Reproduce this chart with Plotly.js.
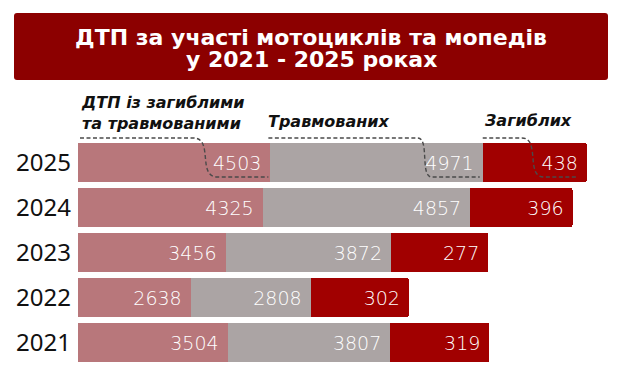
<!DOCTYPE html>
<html>
<head>
<meta charset="utf-8">
<script src="https://cdn.plot.ly/plotly-3.0.1.min.js"></script>
<style>html,body{margin:0;padding:0;background:#fff;}#chart{width:620px;height:375px;}</style>
</head>
<body>
<div id="chart"></div>
<script>
// ---- data ----
const years = ['2021', '2022', '2023', '2024', '2025'];
const crashes = [3504, 2638, 3456, 4325, 4503];   // ДТП із загиблими та травмованими
const injured = [3807, 2808, 3872, 4857, 4971];   // Травмованих
const killed  = [319, 302, 277, 396, 438];        // Загиблих
const seriesNames = ['ДТП із загиблими<br>та травмованими', 'Травмованих', 'Загиблих'];
const titleLine1 = 'ДТП за участі мотоциклів та мопедів';
const titleLine2 = 'у 2021 - 2025 роках';

// ---- style ----
const C_PINK = '#b8777b', C_GREY = '#aba4a4', C_RED = '#a10000', C_BOX = '#8c0000';
// the reference draws the "killed" segment with a visual padding (not to scale)
const KILLED_PAD = 2000;
const killedLen = killed.map(v => v + KILLED_PAD);

const W = 620, H = 375, M = {l: 78, r: 8, t: 140, b: 10};
const XMAX = 12500;
const plotW = W - M.l - M.r, plotH = H - M.t - M.b;
const k = XMAX / plotW;                    // data units per pixel
const px2paperX = px => (px - M.l) / plotW;
const px2paperY = py => (H - M.b - py) / plotH;

const valFont = {family: '"DejaVu Sans ExtraLight", "DejaVu Sans", sans-serif', size: 19, color: '#ffffff', weight: 200};
const common = {type: 'bar', orientation: 'h', y: years, textposition: 'inside',
  insidetextanchor: 'end', texttemplate: '%{text}\u00a0', hoverinfo: 'skip',
  insidetextfont: valFont, textfont: valFont, cliponaxis: false};

const traces = [
  Object.assign({}, common, {x: crashes, text: crashes, name: seriesNames[0], marker: {color: C_PINK}}),
  Object.assign({}, common, {x: injured, text: injured, name: seriesNames[1], marker: {color: C_GREY}}),
  Object.assign({}, common, {x: killedLen, text: killed, name: seriesNames[2], marker: {color: C_RED}})
];

// leader lines (to the top bar, last year)
const last = years.length - 1;
const E1 = crashes[last];
const E2 = E1 + injured[last];
const E3 = E2 + killedLen[last];
const yT = px2paperY(138), yB = px2paperY(177);
function leader(xs, xTopEnd, xBotStart, xe) {
  const dx = xBotStart - xTopEnd;
  return 'M' + xs + ',' + yT + ' L' + xTopEnd + ',' + yT +
    ' C' + (xTopEnd + 0.85 * dx) + ',' + yT + ' ' + (xTopEnd + 0.15 * dx) + ',' + yB + ' ' + xBotStart + ',' + yB +
    ' L' + xe + ',' + yB;
}
const dashLine = {color: '#4a4a4a', width: 1.4, dash: '4px,2.5px'};
const leaders = [
  leader(2 * k, E1 - 77 * k, E1 - 53 * k, E1 - 2 * k),
  leader(E1 - 2 * k, E2 - 65 * k, E2 - 51 * k, E2 - 3 * k),
  leader(E2 + 0 * k, E3 - 65 * k, E3 - 43 * k, E3 - 9 * k)
].map(p => ({type: 'path', xref: 'x', yref: 'paper', path: p, line: dashLine, layer: 'above'}));

// title box (rounded rect in paper coords)
const bx0 = px2paperX(14), bx1 = px2paperX(608), by0 = px2paperY(80), by1 = px2paperY(13);
const rx = 3 / plotW, ry = 3 / plotH;
const boxPath = 'M' + (bx0 + rx) + ',' + by1 + ' L' + (bx1 - rx) + ',' + by1 +
  ' Q' + bx1 + ',' + by1 + ' ' + bx1 + ',' + (by1 - ry) +
  ' L' + bx1 + ',' + (by0 + ry) + ' Q' + bx1 + ',' + by0 + ' ' + (bx1 - rx) + ',' + by0 +
  ' L' + (bx0 + rx) + ',' + by0 + ' Q' + bx0 + ',' + by0 + ' ' + bx0 + ',' + (by0 + ry) +
  ' L' + bx0 + ',' + (by1 - ry) + ' Q' + bx0 + ',' + by1 + ' ' + (bx0 + rx) + ',' + by1 + ' Z';

const titleFont = {family: '"DejaVu Sans", sans-serif', size: 22, color: '#ffffff'};
const labFont = {family: '"DejaVu Sans", sans-serif', size: 16, color: '#111111'};
const annotations = [
  {text: '<b><i>' + seriesNames[0] + '</i></b>', x: px2paperX(79), y: px2paperY(113), align: 'left'},
  {text: '<b><i>' + seriesNames[1] + '</i></b>', x: px2paperX(266), y: px2paperY(122), align: 'left'},
  {text: '<b><i>' + seriesNames[2] + '</i></b>', x: px2paperX(482), y: px2paperY(121), align: 'left'}
].map(a => Object.assign({xref: 'paper', yref: 'paper', xanchor: 'left', yanchor: 'middle',
  showarrow: false, font: labFont}, a));
annotations.push({text: '<b>' + titleLine2 + '</b>', xref: 'paper', yref: 'paper',
  x: px2paperX(311), y: px2paperY(60), xanchor: 'center', yanchor: 'middle',
  showarrow: false, font: titleFont});

const layout = {
  width: W, height: H, margin: M,
  paper_bgcolor: '#ffffff', plot_bgcolor: '#ffffff',
  barmode: 'stack', bargap: 0.12, barcornerradius: 3,
  showlegend: false,
  title: {text: '<b>' + titleLine1 + '</b>', x: 311 / W, xref: 'container', xanchor: 'center',
    y: 1 - 37 / H, yref: 'container', yanchor: 'middle', font: titleFont},
  xaxis: {range: [0, XMAX], visible: false, showgrid: false, zeroline: false, fixedrange: true},
  yaxis: {type: 'category', categoryorder: 'array', categoryarray: years,
    showgrid: false, zeroline: false, showline: false, ticks: '', ticklabelstandoff: 6,
    tickfont: {family: '"Noto Sans", sans-serif', size: 24, color: '#111111'}},
  shapes: [{type: 'path', xref: 'paper', yref: 'paper', path: boxPath,
    fillcolor: C_BOX, line: {width: 0}, layer: 'below'}].concat(leaders),
  annotations: annotations
};

Plotly.newPlot('chart', traces, layout, {displayModeBar: false, staticPlot: true});
</script>
</body>
</html>
